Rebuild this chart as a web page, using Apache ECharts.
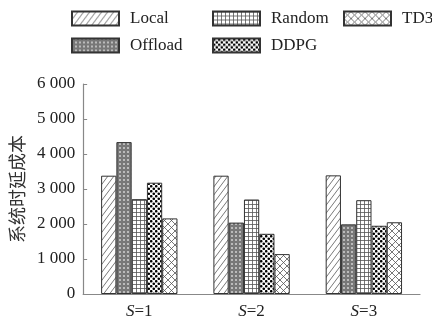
<!DOCTYPE html>
<html><head><meta charset="utf-8">
<script src="https://cdn.jsdelivr.net/npm/echarts@6/dist/echarts.min.js"></script>
<style>html,body{margin:0;padding:0;background:#fff}#c{width:432px;height:322px}</style>
</head><body><div id="c"></div>
<script>
const categories = ['1', '2', '3'];
const seriesNames = ['Local', 'Offload', 'Random', 'DDPG', 'TD3'];
const localVals = [3380, 3380, 3390];
const offloadVals = [4340, 2040, 1990];
const randomVals = [2710, 2700, 2680];
const ddpgVals = [3180, 1720, 1950];
const td3Vals = [2160, 1140, 2050];
const yTicks = [0, 1000, 2000, 3000, 4000, 5000, 6000];

function makePattern(type) {
  const c = document.createElement('canvas');
  let w = 8, h = 8;
  if (type === 'diag') { w = 6; h = 8; }
  if (type === 'circle') { w = 4; h = 4; }
  if (type === 'grid') { w = 4; h = 4; }
  if (type === 'dots') { w = 5; h = 5; }
  if (type === 'cross') { w = 7; h = 7; }
  c.width = w; c.height = h;
  const g = c.getContext('2d');
  g.fillStyle = '#fff'; g.fillRect(0, 0, w, h);
  g.strokeStyle = '#555'; g.lineWidth = 0.8;
  if (type === 'diag') {
    g.beginPath();
    for (let k = -1; k <= 1; k++) { g.moveTo(k * w, h); g.lineTo(k * w + w, 0); }
    g.stroke();
  } else if (type === 'circle') {
    g.fillStyle = '#bbb'; g.fillRect(0, 0, w, h);
    g.strokeStyle = '#333'; g.lineWidth = 0.8;
    g.beginPath(); g.arc(2, 2, 1.3, 0, Math.PI * 2); g.stroke();
  } else if (type === 'grid') {
    g.beginPath(); g.moveTo(0.5, 0); g.lineTo(0.5, h); g.moveTo(0, 0.5); g.lineTo(w, 0.5); g.stroke();
  } else if (type === 'dots') {
    g.fillStyle = '#000';
    [[1.25, 1.25], [3.75, 3.75], [3.75, -1.25], [-1.25, 3.75], [6.25, 1.25], [1.25, 6.25]].forEach(p => {
      g.beginPath(); g.arc(p[0], p[1], 1.3, 0, Math.PI * 2); g.fill();
    });
  } else if (type === 'cross') {
    g.beginPath();
    for (let k = -1; k <= 1; k++) {
      g.moveTo(k * w, h); g.lineTo(k * w + w, 0);
      g.moveTo(k * w, 0); g.lineTo(k * w + w, h);
    }
    g.stroke();
  }
  return { image: c, repeat: 'repeat' };
}
const patterns = {
  Local: makePattern('diag'),
  Offload: makePattern('circle'),
  Random: makePattern('grid'),
  DDPG: makePattern('dots'),
  TD3: makePattern('cross')
};
const valueMap = { Local: localVals, Offload: offloadVals, Random: randomVals, DDPG: ddpgVals, TD3: td3Vals };

const serif = '"Liberation Serif", "DejaVu Serif", serif';
const chart = echarts.init(document.getElementById('c'), null, { renderer: 'canvas' });

function legendBlock(names, left) {
  return {
    orient: 'vertical', left: left, top: 10, itemGap: 10, padding: 0,
    itemWidth: 47, itemHeight: 14, icon: 'rect',
    data: names,
    textStyle: { fontFamily: serif, fontSize: 17, color: '#222', padding: [0, 0, 0, 6] }
  };
}

chart.setOption({
  animation: false,
  legend: [
    legendBlock(['Local', 'Offload'], 71),
    legendBlock(['Random', 'DDPG'], 212),
    legendBlock(['TD3'], 343)
  ],
  grid: { left: 81, right: 12, top: 84, bottom: 28 },
  xAxis: {
    type: 'category', data: categories,
    axisLine: { lineStyle: { color: '#888', width: 1.2 } },
    axisTick: { show: false },
    axisLabel: {
      margin: 9,
      formatter: v => '{i|S}{n|=' + v + '}',
      rich: {
        i: { fontFamily: serif, fontStyle: 'italic', fontSize: 17, color: '#222' },
        n: { fontFamily: serif, fontSize: 17, color: '#222' }
      }
    }
  },
  yAxis: {
    type: 'value', min: 0, max: 6000, interval: 1000,
    name: '系统时延成本', nameLocation: 'middle', nameGap: 56, nameRotate: 90,
    nameTextStyle: { fontFamily: '"Noto Sans CJK SC"', fontSize: 18, color: '#333' },
    axisLine: { show: true, lineStyle: { color: '#888', width: 1.2 } },
    axisTick: { show: true, inside: true, length: 4, lineStyle: { color: '#888' } },
    splitLine: { show: false },
    axisLabel: {
      margin: 8, fontFamily: serif, fontSize: 17, color: '#222',
      formatter: v => {
        if (yTicks.indexOf(v) < 0) return '';
        if (v < 1000) return String(v);
        return Math.floor(v / 1000) + ' ' + String(v % 1000).padStart(3, '0');
      }
    }
  },
  series: seriesNames.map(n => ({
    name: n, type: 'bar', data: valueMap[n],
    barGap: '0%', barCategoryGap: '32%',
    itemStyle: { color: patterns[n], borderColor: '#333', borderWidth: 1 }
  }))
});
</script>
</body></html>
